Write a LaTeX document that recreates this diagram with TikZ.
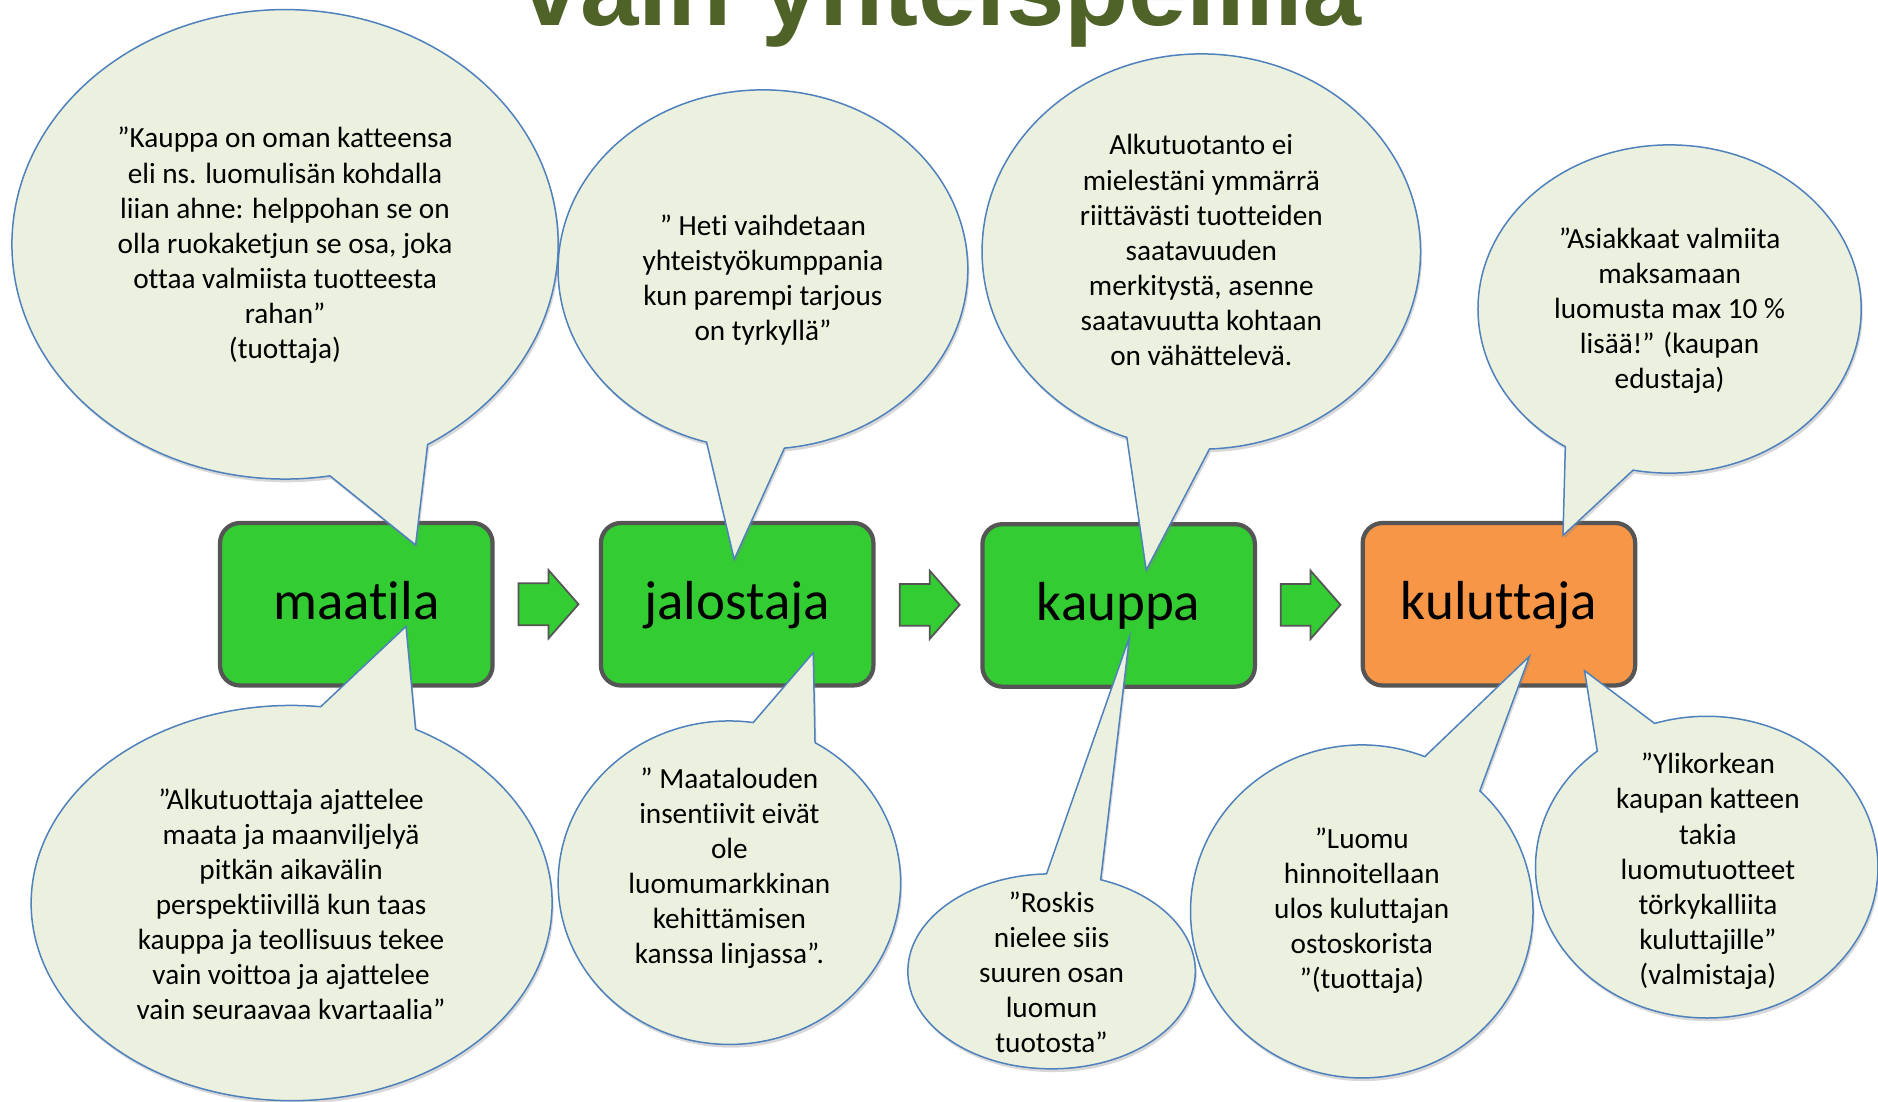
\documentclass[tikz,border=0pt]{standalone}
\usepackage{fontspec}
\setmainfont{Carlito}[Ligatures={TeX,NoCommon}]
\newfontfamily\titlefont{Liberation Sans}
\usetikzlibrary{shapes.callouts,shadows,calc}
\definecolor{boxgreen}{HTML}{33CC33}
\definecolor{boxorange}{HTML}{F79646}
\definecolor{boxgray}{HTML}{555555}
\definecolor{bubblefill}{HTML}{EBF1DE}
\definecolor{bubbleblue}{HTML}{4F81BD}
\definecolor{titlegreen}{HTML}{4F6228}
\tikzset{
  stagebox/.style={draw=boxgray, line width=1.7pt, rounded corners=8pt,
    minimum width=109pt, minimum height=65pt, inner sep=0pt,
    text height=16pt, text depth=4pt, font=\fontsize{22}{26}\selectfont},
  bubble/.style={ellipse callout, draw=bubbleblue, fill=bubblefill, line width=0.6pt,
    inner sep=0pt, callout pointer arc=22,
    drop shadow={opacity=0.3, shadow xshift=0.6pt, shadow yshift=-1.3pt}},
  bubbletext/.style={align=center, font=\fontsize{11.7}{14.05}\selectfont, inner sep=0pt},
  blockarrow/.style={draw=boxgray, fill=boxgreen, line width=0.7pt, line join=miter}
}
\begin{document}
\begin{tikzpicture}[x=0.4791pt,y=-0.4791pt]
\useasboundingbox (0,0) rectangle (1568,920);
\fill[white] (0,0) rectangle (1568,920);
\clip (0,0) rectangle (1568,920);

% title (partly cut off at the top, as in the reference)
\node[anchor=base, inner sep=0pt, text=titlegreen,
  font=\titlefont\bfseries\fontsize{42}{48}\selectfont] (title) at (786.5,21) {vain yhteispelillä};

% stage boxes
\node[stagebox, fill=boxgreen] (maatila) at (297.5,504.5) {maatila};
\node[stagebox, fill=boxgreen] (jalostaja) at (615.5,504.5) {jalostaja};
\node[stagebox, fill=boxgreen] (kauppa) at (934,505.5) {kauppa};
\node[stagebox, fill=boxorange] (kuluttaja) at (1251.5,504.5) {kuluttaja};

% block arrows between boxes
\coordinate (a1) at ($(maatila.east)!0.5!(jalostaja.west)+(1.5,0)$);
\coordinate (a2) at ($(jalostaja.east)!0.5!(kauppa.west)+(1.5,0)$);
\coordinate (a3) at ($(kauppa.east)!0.5!(kuluttaja.west)+(1.5,0)$);
\foreach \a in {a1,a2,a3}{
  \draw[blockarrow] (\a) ++(-25,-17.5) -- ++(25,0) -- ++(0,-11) -- ++(25,28.5)
    -- ++(-25,28.5) -- ++(0,-11) -- ++(-25,0) -- cycle;
}

% speech bubbles
\node[bubble, minimum width=218.5pt, minimum height=187.8pt, callout absolute pointer={(347,455)}] (b1) at (238,204) {};
\node[bubble, minimum width=163.9pt, minimum height=143.7pt, callout absolute pointer={(613,467)}] (b2) at (637,225) {};
\node[bubble, minimum width=175.4pt, minimum height=158.1pt, callout absolute pointer={(957,476)}] (b3) at (1003,210) {};
\node[bubble, minimum width=153.3pt, minimum height=131.3pt, callout absolute pointer={(1305,447)}] (b4) at (1394,258) {};
\node[bubble, minimum width=208.4pt, minimum height=158.1pt, callout absolute pointer={(339,523)}] (b5) at (243.5,754) {};
\node[bubble, minimum width=137pt, minimum height=129.4pt, callout absolute pointer={(679,545)}] (b6) at (609,737) {};
\node[bubble, minimum width=115pt, minimum height=78pt, callout absolute pointer={(943,532)}] (b7) at (878,811) {};
\node[bubble, minimum width=137pt, minimum height=133.2pt, callout absolute pointer={(1277,548)}] (b8) at (1137,761) {};
\node[bubble, minimum width=137pt, minimum height=120.7pt, callout absolute pointer={(1323,560)}] (b9) at (1425,724) {};

% bubble texts
\node[bubbletext] (t1) at (238,205) {”Kauppa on oman katteensa\\eli ns. luomulisän kohdalla\\liian ahne: helppohan se on\\olla ruokaketjun se osa, joka\\ottaa valmiista tuotteesta\\rahan”\\(tuottaja)};
\node[bubbletext] (t2) at (637,234) {” Heti vaihdetaan\\yhteistyökumppania\\kun parempi tarjous\\on tyrkyllä”};
\node[bubbletext] (t3) at (1003,209) {Alkutuotanto ei\\mielestäni ymmärrä\\riittävästi tuotteiden\\saatavuuden\\merkitystä, asenne\\saatavuutta kohtaan\\on vähättelevä.};
\node[bubbletext] (t4) at (1394,259.5) {”Asiakkaat valmiita\\maksamaan\\luomusta max 10 \%\\lisää!” (kaupan\\edustaja)};
\node[bubbletext] (t5) at (243,755) {”Alkutuottaja ajattelee\\maata ja maanviljelyä\\pitkän aikavälin\\perspektiivillä kun taas\\kauppa ja teollisuus tekee\\vain voittoa ja ajattelee\\vain seuraavaa kvartaalia”};
\node[bubbletext] (t6) at (609,725) {” Maatalouden\\insentiivit eivät\\ole\\luomumarkkinan\\kehittämisen\\kanssa linjassa”.};
\node[bubbletext] (t7) at (878,812) {”Roskis\\nielee siis\\suuren osan\\luomun\\tuotosta”};
\node[bubbletext] (t8) at (1137,760.5) {”Luomu\\hinnoitellaan\\ulos kuluttajan\\ostoskorista\\”(tuottaja)};
\node[bubbletext] (t9) at (1426,727.5) {”Ylikorkean\\kaupan katteen\\takia\\luomutuotteet\\törkykalliita\\kuluttajille”\\(valmistaja)};
\end{tikzpicture}
\end{document}
